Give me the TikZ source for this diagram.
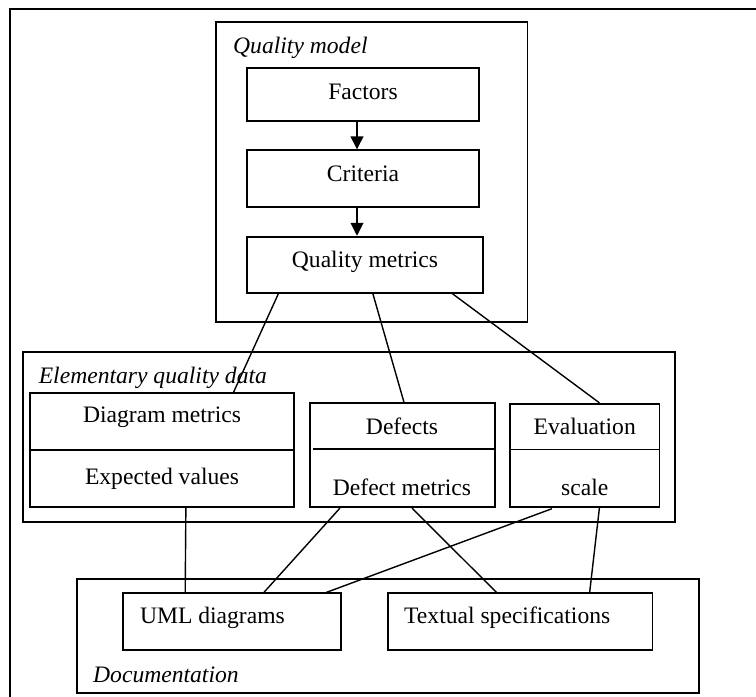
\documentclass[tikz,border=0pt]{standalone}
\usepackage{fontspec}
\setmainfont{Liberation Serif}
\usetikzlibrary{arrows.meta,calc,fit}
\begin{document}
\begin{tikzpicture}[x=1pt,y=-1pt,
  frameline/.style={line width=2.2pt},
  box/.style={draw, line width=1.7pt, inner sep=0pt},
  txt/.style={font=\fontsize{23.6}{28}\selectfont, inner sep=0pt, text height=15.6pt, text depth=0pt},
  ital/.style={txt, font=\fontsize{23.6}{28}\selectfont\itshape, anchor=west},
  link/.style={line width=1.4pt},
  flow/.style={line width=2.3pt, -{Triangle[length=13pt,width=12.5pt]}}]
\useasboundingbox (0,0) rectangle (756,697);

% outer frame (open on the right and at the bottom)
\draw[frameline] (756,8.7) -- (10,8.7) -- (10,697);

% ---- quality model ----
\node[box] (qmod) [fit={(216,22) (527.5,321.7)}] {};
\node[ital] (qmodl) at (233,45.8) {Quality model};
\node[box] (fac) [fit={(246.7,68.3) (479.3,121)}] {};
\node[txt] (facl) at (363,91.7) {Factors};
\node[box] (cri) [fit={(247,150.3) (479,207.3)}] {};
\node[txt] (cril) at (363,173.7) {Criteria};
\node[box] (qm) [fit={(247.3,236.7) (482.7,292.7)}] {};
\node[txt] (qml) at (365,259.7) {Quality metrics};

\draw[flow] ($(fac.south)+(-6,0)$) -- ($(cri.north)+(-6,0)$);
\draw[flow] ($(cri.south)+(-6,0)$) -- ($(qm.north)+(-8,0)$);

% ---- elementary quality data ----
\node[box] (eqd) [fit={(22.7,352.3) (675,522.3)}] {};
\node[ital] (eqdl) at (38.6,376) {Elementary quality data};

\node[box] (dm) [fit={(29.9,393.3) (294,507.3)}] {};
\draw[box] (dm.west) -- (dm.east);
\node[txt] (dml) at (162,414.7) {Diagram metrics};
\node[txt] (evl) at (162,476.3) {Expected values};

\node[box] (def) [fit={(310,403.3) (494.7,507.3)}] {};
\draw[box] ($(def.west)+(4,-6.6)$) -- ($(def.east)+(0,-6.6)$);
\node[txt] (defl) at (402,427) {Defects};
\node[txt] (dfml) at (402,487.7) {Defect metrics};

\node[box] (eva) [fit={(510,403.7) (659.5,507)}] {};
\draw[box] ($(eva.west)+(0,-6)$) -- ($(eva.east)+(0,-6)$);
\node[txt] (eval) at (584.7,426.7) {Evaluation};
\node[txt] (scl) at (584.7,487.3) {scale};

% ---- documentation ----
\node[box] (doc) [fit={(77,579) (699.3,692.7)}] {};
\node[ital] (docl) at (93,675) {Documentation};
\node[box] (uml) [fit={(123,593.3) (341,650.3)}] {};
\node[txt, anchor=west] (umll) at (139.8,616) {UML diagrams};
\node[box] (tsp) [fit={(388,593.3) (652.4,650.3)}] {};
\node[txt, anchor=west] (tspl) at (404,616) {Textual specifications};

% ---- links ----
\draw[link] ($(qm.south west)!0.135!(qm.south east)$) -- ($(dm.north west)!0.769!(dm.north east)$);
\draw[link] ($(qm.south west)!0.533!(qm.south east)$) -- ($(def.north west)!0.509!(def.north east)$);
\draw[link] ($(qm.south west)!0.868!(qm.south east)$) -- ($(eva.north west)!0.597!(eva.north east)$);

\draw[link] ($(dm.south west)!0.590!(dm.south east)$) -- ($(uml.north west)!0.287!(uml.north east)$);
\draw[link] ($(def.south west)!0.165!(def.south east)$) -- ($(uml.north west)!0.645!(uml.north east)$);
\draw[link] ($(def.south west)!0.552!(def.south east)$) -- ($(tsp.north west)!0.411!(tsp.north east)$);
\draw[link, shorten <=2.5pt] ($(eva.south west)!0.298!(eva.south east)$) -- ($(uml.north west)!0.929!(uml.north east)$);
\draw[link] ($(eva.south west)!0.597!(eva.south east)$) -- ($(tsp.north west)!0.761!(tsp.north east)$);
\end{tikzpicture}
\end{document}
